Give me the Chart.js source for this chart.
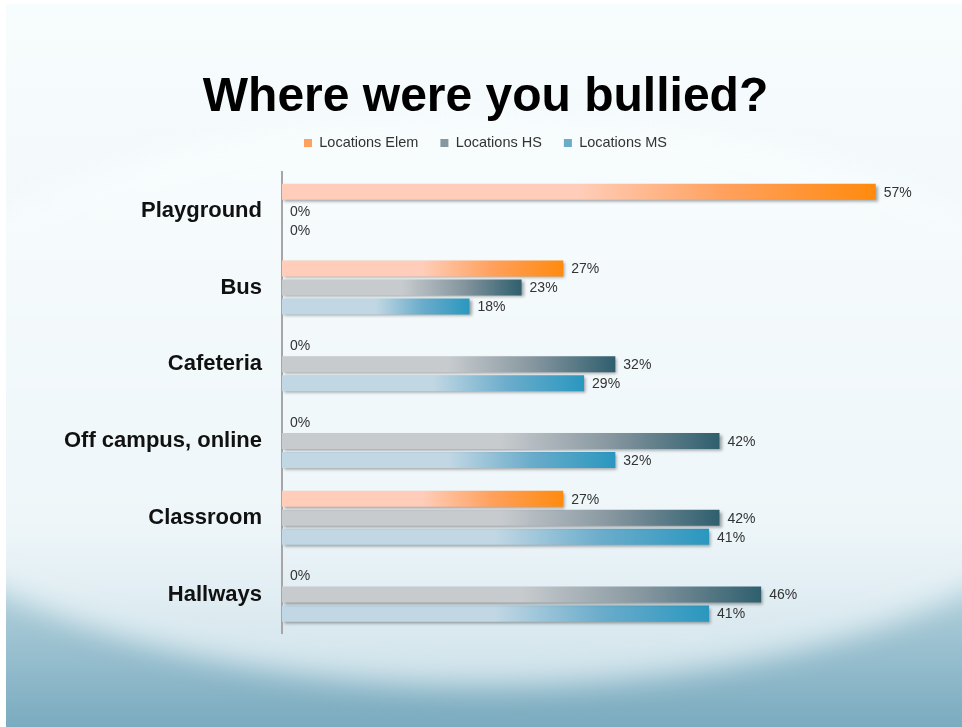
<!DOCTYPE html>
<html>
<head>
<meta charset="utf-8">
<script src="https://cdn.jsdelivr.net/npm/chart.js@4.4.1/dist/chart.umd.min.js"></script>
<style>
  html, body { margin: 0; padding: 0; background: #ffffff; }
  #wrap { width: 962px; height: 727px; }
</style>
</head>
<body>
<div id="wrap"><canvas id="chart" width="962" height="727"></canvas></div>
<script>
const categories = ["Playground", "Bus", "Cafeteria", "Off campus, online", "Classroom", "Hallways"];
const seriesNames = ["Locations Elem", "Locations HS", "Locations MS"];
const elemValues = [57, 27, 0, 0, 27, 0];
const hsValues = [0, 23, 32, 42, 42, 46];
const msValues = [0, 18, 29, 32, 41, 41];

// light -> mid -> dark for each series
const elemColors = ["#ffcdb9", "#ffa05c", "#ff8a0e"];
const hsColors = ["#c7cbce", "#8797a0", "#2f5f6e"];
const msColors = ["#c1d7e4", "#6aaccb", "#2a97bf"];

function barGradient(cols) {
    return function (context) {
        const chart = context.chart;
        const x = chart.scales.x;
        if (!x || context.type !== 'data') {
            return cols[1];
        }
        const x0 = x.getPixelForValue(0);
        const x1 = x.getPixelForValue(context.raw);
        if (!isFinite(x0) || !isFinite(x1) || x1 - x0 < 1) {
            return cols[0];
        }
        const g = chart.ctx.createLinearGradient(x0, 0, x1, 0);
        g.addColorStop(0, cols[0]);
        g.addColorStop(0.5, cols[0]);
        g.addColorStop(0.75, cols[1]);
        g.addColorStop(1, cols[2]);
        return g;
    };
}

// slide background
const slideBackground = {
    id: 'slideBackground',
    beforeDraw(chart) {
        const ctx = chart.ctx;
        const w = chart.width, h = chart.height;
        ctx.save();
        ctx.fillStyle = '#ffffff';
        ctx.fillRect(0, 0, w, h);

        ctx.beginPath();
        ctx.rect(6, 4, w - 6, h - 4);
        ctx.clip();

        let g = ctx.createLinearGradient(0, 4, 0, h);
        g.addColorStop(0, '#f7fcfd');
        g.addColorStop(0.6, '#eef6f9');
        g.addColorStop(0.75, '#c2dbe4');
        g.addColorStop(1, '#7aabbf');
        ctx.fillStyle = g;
        ctx.fillRect(6, 4, w - 6, h - 4);

        ctx.filter = 'blur(14px)';
        let g2 = ctx.createLinearGradient(0, 150, 0, 685);
        g2.addColorStop(0, '#f7fcfd');
        g2.addColorStop(0.7, '#eef6f9');
        g2.addColorStop(1, '#cfe2ea');
        ctx.fillStyle = g2;
        ctx.beginPath();
        ctx.ellipse(484, 400, 650, 285, 0, 0, Math.PI * 2);
        ctx.fill();
        ctx.filter = 'none';
        ctx.restore();
    }
};

// bar shadows + value labels
const barExtras = {
    id: 'barExtras',
    beforeDatasetsDraw(chart) {
        const ctx = chart.ctx;
        ctx.save();
        ctx.shadowColor = 'rgba(0,0,0,0.35)';
        ctx.shadowBlur = 3;
        ctx.shadowOffsetX = 2;
        ctx.shadowOffsetY = 2;
    },
    afterDatasetsDraw(chart) {
        const ctx = chart.ctx;
        ctx.restore();
        ctx.save();
        ctx.font = '14px "Liberation Sans", Arial, sans-serif';
        ctx.fillStyle = '#333333';
        ctx.textAlign = 'left';
        ctx.textBaseline = 'middle';
        chart.data.datasets.forEach((ds, i) => {
            const meta = chart.getDatasetMeta(i);
            meta.data.forEach((bar, j) => {
                ctx.fillText(ds.data[j] + '%', bar.x + 8, bar.y + 1);
            });
        });
        ctx.restore();
    }
};

const legendColors = [elemColors, hsColors, msColors];

new Chart(document.getElementById('chart'), {
    type: 'bar',
    data: {
        labels: categories,
        datasets: [
            { label: seriesNames[0], data: elemValues, backgroundColor: barGradient(elemColors) },
            { label: seriesNames[1], data: hsValues, backgroundColor: barGradient(hsColors) },
            { label: seriesNames[2], data: msValues, backgroundColor: barGradient(msColors) }
        ]
    },
    options: {
        indexAxis: 'y',
        responsive: false,
        animation: false,
        categoryPercentage: 0.743,
        barPercentage: 0.842,
        borderWidth: 0,
        layout: { padding: { left: 64, right: 55, top: 0, bottom: 94 } },
        scales: {
            x: {
                min: 0,
                max: 60,
                position: 'top',
                display: true,
                grid: { display: false, drawTicks: false },
                border: { display: false },
                ticks: { display: false },
                afterFit: function (scale) { scale.height = 12; }
            },
            y: {
                grid: { display: false, drawTicks: false },
                border: { display: true, color: '#a6a6a6', width: 2 },
                ticks: {
                    padding: 20,
                    color: '#111111',
                    font: { family: '"Liberation Sans", Arial, sans-serif', size: 22, weight: 'bold' }
                },
                afterFit: function (scale) { scale.width = 218; }
            }
        },
        plugins: {
            title: {
                display: true,
                text: 'Where were you bullied?',
                color: '#000000',
                font: { family: '"Liberation Sans", Arial, sans-serif', size: 48, weight: 'bold', lineHeight: 0.6 },
                padding: { top: 83, bottom: 2 }
            },
            legend: {
                display: true,
                labels: {
                    boxWidth: 8,
                    boxHeight: 8,
                    padding: 22,
                    color: '#333333',
                    font: { family: '"Liberation Sans", Arial, sans-serif', size: 14.5 },
                    generateLabels: function (chart) {
                        return chart.data.datasets.map((ds, i) => ({
                            text: ds.label,
                            fillStyle: legendColors[i][1],
                            strokeStyle: legendColors[i][1],
                            lineWidth: 0,
                            fontColor: '#333333',
                            hidden: false,
                            datasetIndex: i
                        }));
                    }
                }
            },
            tooltip: { enabled: false }
        }
    },
    plugins: [slideBackground, barExtras]
});
</script>
</body>
</html>
